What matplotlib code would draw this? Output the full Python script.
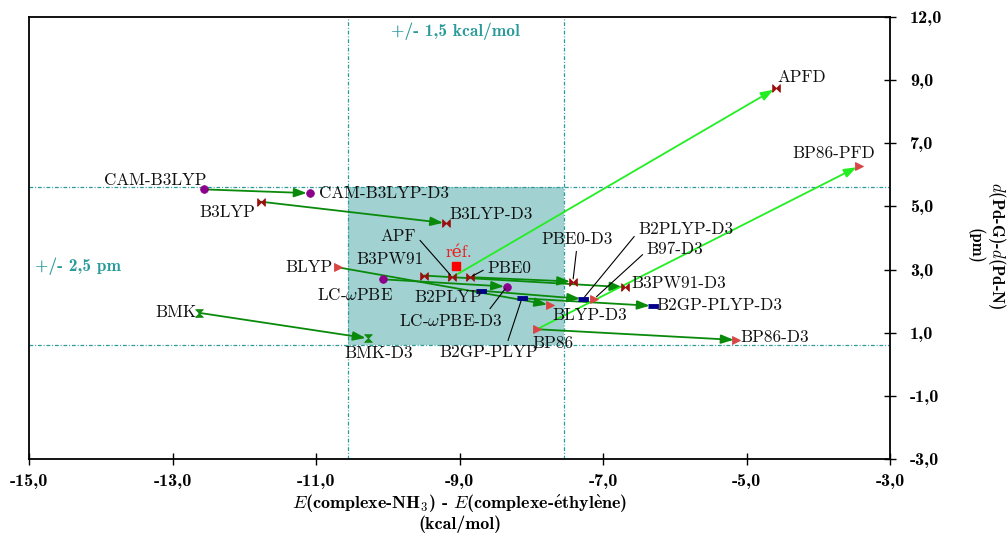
import matplotlib
matplotlib.use("Agg")
import matplotlib.pyplot as plt
from matplotlib.path import Path
from matplotlib.patches import Rectangle

plt.rcParams['font.family'] = ['cmr10', 'DejaVu Serif']
plt.rcParams['mathtext.fontset'] = 'cm'
plt.rcParams['axes.unicode_minus'] = False

# ---------------- data ----------------
methods = ['CAM-B3LYP', 'CAM-B3LYP-D3', 'B3LYP', 'B3LYP-D3', 'APF', 'APFD',
           'PBE0', 'PBE0-D3', 'B3PW91', 'B3PW91-D3', 'LC-$\\omega$PBE', 'LC-$\\omega$PBE-D3',
           'B2PLYP', 'B2PLYP-D3', 'B2GP-PLYP', 'B2GP-PLYP-D3', 'BLYP', 'BLYP-D3',
           'BP86', 'BP86-D3', 'BP86-PFD', 'B97-D3', 'BMK', 'BMK-D3']
energy = [-12.56, -11.09, -11.77, -9.19, -9.10, -4.59,
          -8.85, -7.42, -9.49, -6.69, -10.06, -8.34,
          -8.70, -7.28, -8.13, -6.31, -10.69, -7.74,
          -7.92, -5.14, -3.43, -7.12, -12.63, -10.27]
distance = [5.54, 5.42, 5.15, 4.47, 2.76, 8.74,
            2.76, 2.62, 2.81, 2.44, 2.69, 2.46,
            2.33, 2.07, 2.09, 1.85, 3.07, 1.88,
            1.11, 0.77, 6.28, 2.08, 1.63, 0.82]
family = ['rs', 'rs', 'hyb', 'hyb', 'hyb', 'hyb',
          'hyb', 'hyb', 'hyb', 'hyb', 'rs', 'rs',
          'dh', 'dh', 'dh', 'dh', 'gga', 'gga',
          'gga', 'gga', 'gga', 'gga', 'mgga', 'mgga']
# corrections: (from, to, kind)
corrections = [('CAM-B3LYP', 'CAM-B3LYP-D3', 'D3'), ('B3LYP', 'B3LYP-D3', 'D3'),
               ('APF', 'APFD', 'PFD'), ('PBE0', 'PBE0-D3', 'D3'),
               ('B3PW91', 'B3PW91-D3', 'D3'), ('LC-$\\omega$PBE', 'LC-$\\omega$PBE-D3', 'D3'),
               ('B2PLYP', 'B2PLYP-D3', 'D3'), ('B2GP-PLYP', 'B2GP-PLYP-D3', 'D3'),
               ('BLYP', 'BLYP-D3', 'D3'), ('BP86', 'BP86-D3', 'D3'),
               ('BP86', 'BP86-PFD', 'PFD'), ('BMK', 'BMK-D3', 'D3')]
ref_energy, ref_distance = -9.05, 3.10
tol_energy, tol_distance = 1.5, 2.5
xticks = [-15, -13, -11, -9, -7, -5, -3]
xticklabels = ['-15,0', '-13,0', '-11,0', '-9,0', '-7,0', '-5,0', '-3,0']
yticks = [-3, -1, 1, 3, 5, 7, 9, 11]
yticklabels = ['-3,0', '-1,0', '1,0', '3,0', '5,0', '7,0', '9,0', '12,0']

# ---------------- styles ----------------
bowtie = Path([(-1, -1), (-1, 1), (1, -1), (1, 1), (-1, -1)])
hourglass = Path([(-1, -1), (1, -1), (-1, 1), (1, 1), (-1, -1)])
dash = [(-1, -0.35), (1, -0.35), (1, 0.35), (-1, 0.35)]
fam_style = {
    'rs': dict(marker='o', color='#8b008b', ms=5.5),
    'hyb': dict(marker=bowtie, color='#9b0f0f', ms=5.5),
    'dh': dict(marker=dash, color='#00008b', ms=7.5),
    'gga': dict(marker='>', color='#d94545', ms=5.5),
    'mgga': dict(marker=hourglass, color='#108a10', ms=5.5),
}
arrow_col = {'D3': '#0a8a0a', 'PFD': '#22ee22'}

# label placement: offset (pixels), ha, leader relpos or None
label_fmt = {
    'CAM-B3LYP': ((-49, 9), 'center', None),
    'CAM-B3LYP-D3': ((9, 0), 'left', None),
    'B3LYP': ((-33, -11), 'center', None),
    'B3LYP-D3': ((4, 9), 'left', None),
    'APF': ((-36, 41), 'right', (1, 0.5)),
    'APFD': ((2, 11), 'left', None),
    'PBE0': ((17, 9), 'left', (0, 0.5)),
    'PBE0-D3': ((4, 42), 'center', (0.5, 0)),
    'B3PW91': ((-34, 16), 'center', None),
    'B3PW91-D3': ((6, 4), 'left', None),
    'LC-$\\omega$PBE': ((-28, -16), 'center', None),
    'LC-$\\omega$PBE-D3': ((-56, -34), 'center', (0.85, 1)),
    'B2PLYP': ((-33, -7), 'center', None),
    'B2PLYP-D3': ((55, 70), 'left', (0, 0.3)),
    'B2GP-PLYP': ((-33, -54), 'center', (0.68, 1)),
    'B2GP-PLYP-D3': ((4, 1), 'left', None),
    'BLYP': ((-6, 0), 'right', None),
    'BLYP-D3': ((40, -10), 'center', None),
    'BP86': ((16, -14), 'center', None),
    'BP86-D3': ((4, 3), 'left', None),
    'BP86-PFD': ((-25, 13), 'center', None),
    'B97-D3': ((52, 49), 'left', (0, 0.4)),
    'BMK': ((-3, 0), 'right', None),
    'BMK-D3': ((10, -15), 'center', None),
}

teal = '#2a9a9a'
bold = ['cmb10', 'DejaVu Serif']
lab_fs = 12.3

fig = plt.figure(figsize=(10.07, 5.33), dpi=100)
ax = fig.add_axes([29 / 1007, 1 - 459 / 533, 861 / 1007, 442 / 533])
ax.set_xlim(-15, -3)
ax.set_ylim(-3, 11)

# tolerance zone
ax.add_patch(Rectangle((ref_energy - tol_energy, ref_distance - tol_distance),
                       2 * tol_energy, 2 * tol_distance, facecolor='#a1d1d1',
                       edgecolor='none', zorder=0))
for xv in (ref_energy - tol_energy, ref_energy + tol_energy):
    ax.axvline(xv, color=teal, lw=0.9, ls=(0, (3, 1.5, 0.8, 1.5)), zorder=1)
for yv in (ref_distance - tol_distance, ref_distance + tol_distance):
    ax.axhline(yv, color=teal, lw=0.9, ls=(0, (3, 1.5, 0.8, 1.5)), zorder=1)
ax.text(ref_energy, 10.56, '+/- 1,5 kcal/mol', color=teal, family=bold,
        fontsize=12.5, ha='center', va='center')
ax.text(-14.92, ref_distance, '+/- 2,5 pm', color=teal, family=bold,
        fontsize=12.5, ha='left', va='center')

idx = {m: i for i, m in enumerate(methods)}

# correction arrows
for a, b, kind in corrections:
    ia, ib = idx[a], idx[b]
    ax.annotate('', xy=(energy[ib], distance[ib]), xytext=(energy[ia], distance[ia]),
                arrowprops=dict(arrowstyle='-|>,head_length=0.75,head_width=0.27',
                                color=arrow_col[kind], lw=1.3, shrinkA=0, shrinkB=2,
                                mutation_scale=10), zorder=2)

# markers
for m, xv, yv, f in zip(methods, energy, distance, family):
    st = fam_style[f]
    ax.plot([xv], [yv], ls='none', marker=st['marker'], color=st['color'],
            markersize=st['ms'], markeredgewidth=0.6, zorder=3)

# reference
ax.plot([ref_energy], [ref_distance], ls='none', marker='s', color='#ff0000',
        markersize=5.5, zorder=3)
ax.annotate('réf.', xy=(ref_energy, ref_distance), xytext=(3, 14),
            textcoords='offset pixels', ha='center', va='center', color='#ee1c1c',
            fontsize=lab_fs)

# labels
for m, xv, yv in zip(methods, energy, distance):
    off, ha, rel = label_fmt[m]
    ap = None
    if rel is not None:
        ap = dict(arrowstyle='-', color='black', lw=0.8, relpos=rel,
                  shrinkA=1, shrinkB=2)
    ax.annotate(m, xy=(xv, yv), xytext=off, textcoords='offset pixels',
                ha=ha, va='center', fontsize=lab_fs, color='#111111',
                arrowprops=ap, zorder=4)

# axes styling
for s in ax.spines.values():
    s.set_linewidth(1.3)
ax.yaxis.tick_right()
ax.set_xticks(xticks)
ax.set_xticklabels(xticklabels, family=bold, fontsize=13)
ax.set_yticks(yticks)
ax.set_yticklabels(yticklabels, family=bold, fontsize=13)
ax.tick_params(axis='both', direction='inout', length=9, width=1.0)
ax.tick_params(axis='x', pad=6)
ax.tick_params(axis='y', pad=10)

fig.text(460 / 1007, 1 - 503 / 533,
         r'$\mathit{E}$(complexe-NH$_{\mathbf{3}}$) - $\mathit{E}$(complexe-$\mathbf{\acute{e}}$thyl$\mathbf{\grave{e}}$ne)',
         family=bold, fontsize=13, ha='center', va='center')
fig.text(460 / 1007, 1 - 524 / 533, '(kcal/mol)', family=bold,
         fontsize=13, ha='center', va='center')
fig.text(997 / 1007, 1 - 246 / 533, r'$\mathit{d}$(Pd-G)-$\mathit{d}$(Pd-N)',
         family=bold, fontsize=12, rotation=-90, ha='center', va='center')
fig.text(975 / 1007, 1 - 246 / 533, '(pm)', family=bold,
         fontsize=12, rotation=-90, ha='center', va='center')

fig.savefig('out.png', dpi=100)
